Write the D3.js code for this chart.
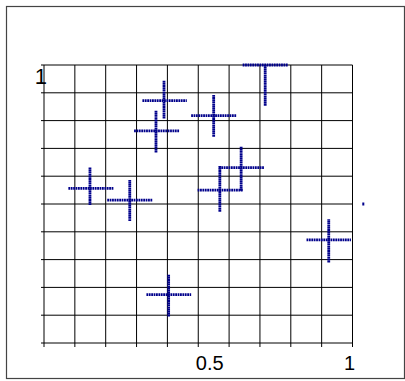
<!DOCTYPE html>
<html>
<head>
<meta charset="utf-8">
<script src="https://cdn.jsdelivr.net/npm/d3@7"></script>
<style>
  html, body { margin: 0; padding: 0; background: #fff; }
  svg { display: block; }
  text { font-family: "Liberation Sans", Arial, sans-serif; }
</style>
</head>
<body>
<svg id="chart" width="405" height="381"></svg>
<script>
// Cross centres and arm extents (data units, 0..1 on both axes)
const crossX   = [0.149, 0.278, 0.389, 0.363, 0.550, 0.717, 0.570, 0.639, 0.923, 0.404];
const crossY   = [0.556, 0.514, 0.872, 0.763, 0.818, 1.000, 0.550, 0.631, 0.371, 0.174];
const crossXLo = [0.079, 0.205, 0.319, 0.292, 0.477, 0.644, 0.498, 0.567, 0.851, 0.332];
const crossXHi = [0.225, 0.351, 0.463, 0.438, 0.623, 0.790, 0.644, 0.713, 0.995, 0.477];
const crossYLo = [0.496, 0.439, 0.808, 0.685, 0.742, 0.853, 0.472, 0.548, 0.290, 0.095];
const crossYHi = [0.631, 0.586, 0.945, 0.836, 0.893, 1.000, 0.638, 0.706, 0.445, 0.247];

// Lone marker to the right of the plot
const markerX = [1.035];
const markerY = [0.5];

// Grid divisions and labelled ticks
const gridValues = d3.range(0, 11).map(i => i / 10);
const xTickLabels = [{ v: 0.5, t: "0.5" }, { v: 1, t: "1" }];
const yTickLabels = [{ v: 1, t: "1" }];

const svg = d3.select("#chart");
const x = d3.scaleLinear().domain([0, 1]).range([44, 352.5]);
const y = d3.scaleLinear().domain([0, 1]).range([343, 65]);
const ink = "#00008b";

// Outer frame
svg.append("rect")
  .attr("x", 6.5).attr("y", 6.5)
  .attr("width", 398).attr("height", 372)
  .attr("fill", "none").attr("stroke", "#444").attr("stroke-width", 1.2);

// Grid
const grid = svg.append("g").attr("stroke", "#000").attr("stroke-width", 1);
grid.selectAll("line.v").data(gridValues).join("line")
  .attr("class", "v")
  .attr("x1", d => x(d)).attr("x2", d => x(d))
  .attr("y1", y(1)).attr("y2", y(0) + 4);
grid.selectAll("line.h").data(gridValues).join("line")
  .attr("class", "h")
  .attr("x1", x(0) - 3).attr("x2", x(1))
  .attr("y1", d => y(d)).attr("y2", d => y(d));

// Tick labels
svg.selectAll("text.xt").data(xTickLabels).join("text")
  .attr("class", "xt")
  .attr("x", d => x(d.v) + (d.v === 1 ? -3 : 11.5))
  .attr("y", 370)
  .attr("text-anchor", "middle")
  .attr("font-size", 20)
  .attr("fill", "#000")
  .text(d => d.t);
svg.selectAll("text.yt").data(yTickLabels).join("text")
  .attr("class", "yt")
  .attr("x", x(0) + 3)
  .attr("y", d => y(d.v) + 19)
  .attr("text-anchor", "end")
  .attr("font-size", 22)
  .attr("fill", "#000")
  .text(d => d.t);

// Dotted crosses
const idx = d3.range(crossX.length);
const crosses = svg.append("g");
crosses.selectAll("line.arm-h").data(idx).join("line")
  .attr("class", "arm-h")
  .attr("x1", i => x(crossXLo[i])).attr("x2", i => x(crossXHi[i]))
  .attr("y1", i => y(crossY[i])).attr("y2", i => y(crossY[i]))
  .attr("stroke", ink).attr("stroke-width", 2.8)
  .attr("stroke-dasharray", "1.8 0.6");
crosses.selectAll("line.arm-v").data(idx).join("line")
  .attr("class", "arm-v")
  .attr("x1", i => x(crossX[i])).attr("x2", i => x(crossX[i]))
  .attr("y1", i => y(crossYLo[i])).attr("y2", i => y(crossYHi[i]))
  .attr("stroke", ink).attr("stroke-width", 2.8)
  .attr("stroke-dasharray", "1.8 0.3");

// Lone marker
svg.selectAll("rect.marker").data(markerX).join("rect")
  .attr("class", "marker")
  .attr("x", (d, i) => x(d) - 1)
  .attr("y", (d, i) => y(markerY[i]) - 1.5)
  .attr("width", 2).attr("height", 3)
  .attr("fill", ink);
</script>
</body>
</html>
